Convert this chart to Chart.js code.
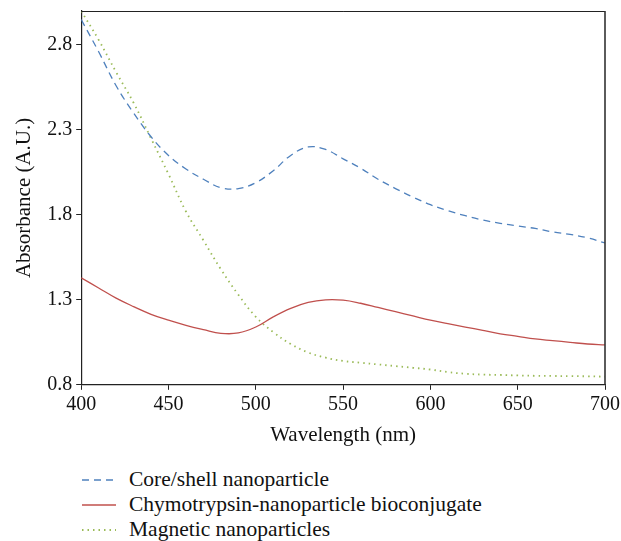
<!DOCTYPE html>
<html>
<head>
<meta charset="utf-8">
<script src="https://cdn.jsdelivr.net/npm/chart.js@4"></script>
<style>
  body { margin: 0; background: #fff; }
  #wrap { position: relative; width: 621px; height: 541px; }
  #box { position: absolute; left: 0; top: 0; width: 621px; height: 452px; }
  #legend { position: absolute; left: 82px; top: 467px; font-family: "Liberation Serif", serif; font-size: 21.5px; color: #111; }
  .row { display: flex; align-items: center; height: 25px; }
  .row svg { margin-right: 13px; }
</style>
</head>
<body>
<div id="wrap">
  <div id="box"><canvas id="myChart"></canvas></div>
  <div id="legend"></div>
</div>
<script>
const wavelengths = [400, 410, 420, 430, 440, 450, 460, 470, 480, 490, 500, 510, 520, 530, 540, 550, 560, 570, 580, 590, 600, 610, 620, 630, 640, 650, 660, 670, 680, 690, 700];
const coreShell = [2.95, 2.76, 2.56, 2.40, 2.26, 2.15, 2.07, 2.01, 1.96, 1.955, 1.99, 2.06, 2.15, 2.20, 2.185, 2.13, 2.075, 2.01, 1.955, 1.905, 1.86, 1.825, 1.795, 1.77, 1.75, 1.735, 1.72, 1.70, 1.685, 1.665, 1.635];
const bioconjugate = [1.43, 1.37, 1.31, 1.26, 1.215, 1.18, 1.15, 1.125, 1.103, 1.105, 1.14, 1.20, 1.25, 1.285, 1.30, 1.298, 1.28, 1.255, 1.23, 1.205, 1.18, 1.16, 1.14, 1.12, 1.10, 1.085, 1.07, 1.06, 1.05, 1.04, 1.035];
const magnetic = [3.0, 2.83, 2.64, 2.46, 2.25, 2.04, 1.82, 1.65, 1.48, 1.33, 1.20, 1.11, 1.04, 0.99, 0.96, 0.94, 0.93, 0.92, 0.91, 0.90, 0.89, 0.875, 0.865, 0.86, 0.858, 0.855, 0.853, 0.852, 0.851, 0.85, 0.848];
const seriesNames = ['Core/shell nanoparticle', 'Chymotrypsin-nanoparticle bioconjugate', 'Magnetic nanoparticles'];
const yTicks = [0.8, 1.3, 1.8, 2.3, 2.8];

const colors = ['#4f81bd', '#c0504d', '#9bbb59'];
const dashes = [[7, 5], [], [1.5, 4]];
const widths = [1.3, 1.3, 1.8];
const serif = '"Liberation Serif", serif';

function pts(ys) {
    return wavelengths.map((x, i) => ({ x: x, y: ys[i] }));
}

// frame around the plot area
const frame = {
    id: 'frame',
    afterDraw(chart) {
        const a = chart.chartArea, c = chart.ctx;
        c.save();
        c.strokeStyle = '#222';
        c.lineWidth = 1;
        c.beginPath();
        c.moveTo(a.left, a.top + 0.5);
        c.lineTo(a.right, a.top + 0.5);
        c.stroke();
        c.lineWidth = 1.6;
        c.strokeStyle = '#333';
        c.beginPath();
        c.moveTo(a.right, a.top);
        c.lineTo(a.right, a.bottom);
        c.stroke();
        c.restore();
    }
};

const ctx = document.getElementById('myChart');
new Chart(ctx, {
    type: 'line',
    data: {
        datasets: [coreShell, bioconjugate, magnetic].map((ys, i) => ({
            label: seriesNames[i],
            data: pts(ys),
            borderColor: colors[i],
            borderWidth: widths[i],
            borderDash: dashes[i],
            pointRadius: 0,
            tension: 0.4,
            fill: false
        }))
    },
    options: {
        responsive: true,
        maintainAspectRatio: false,
        animation: false,
        layout: { padding: { left: 12, right: 16, top: 11, bottom: 4 } },
        plugins: { legend: { display: false }, tooltip: { enabled: false } },
        scales: {
            x: {
                type: 'linear',
                min: 400, max: 700,
                afterFit: s => { s.paddingRight = 0; s.paddingLeft = 0; },
                ticks: { stepSize: 50, color: '#111', font: { family: serif, size: 20 }, padding: 3 },
                grid: { drawOnChartArea: false, drawTicks: true, tickLength: 5, color: '#222' },
                border: { color: '#222', width: 1.2 },
                title: { display: true, text: 'Wavelength (nm)', color: '#111', font: { family: serif, size: 21 }, padding: { top: 3, bottom: 0 } }
            },
            y: {
                min: 0.8, max: 3.0,
                afterBuildTicks: s => { s.ticks = yTicks.map(v => ({ value: v })); },
                afterFit: s => { s.paddingTop = 0; s.paddingBottom = 0; },
                ticks: { color: '#111', font: { family: serif, size: 20 }, padding: 4, callback: v => v.toFixed(1) },
                grid: { drawOnChartArea: false, drawTicks: true, tickLength: 5, color: '#222' },
                border: { color: '#222', width: 1.2 },
                title: { display: true, text: 'Absorbance (A.U.)', color: '#111', font: { family: serif, size: 21 }, padding: { top: 0, bottom: 6 } }
            }
        }
    },
    plugins: [frame]
});

// legend as html text
const leg = document.getElementById('legend');
seriesNames.forEach((name, i) => {
    const row = document.createElement('div');
    row.className = 'row';
    row.innerHTML = '<svg width="34" height="6"><line x1="0" y1="3" x2="34" y2="3" stroke="' + colors[i] +
        '" stroke-width="' + widths[i] + '" stroke-dasharray="' + (dashes[i].length ? dashes[i].join(',') : 'none') + '"/></svg><span>' + name + '</span>';
    leg.appendChild(row);
});
</script>
</body>
</html>
